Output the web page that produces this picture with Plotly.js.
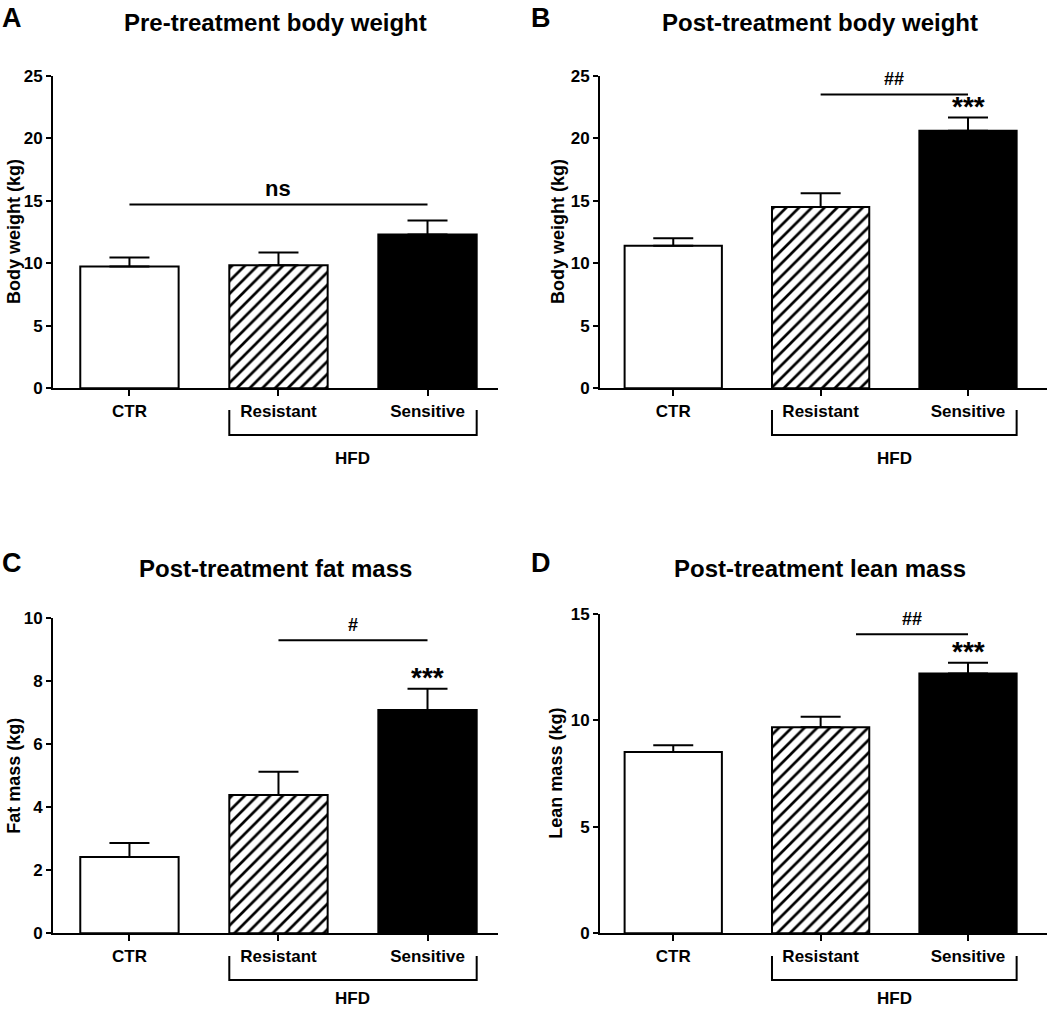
<!DOCTYPE html>
<html>
<head>
<meta charset="utf-8">
<script src="https://cdn.plot.ly/plotly-3.0.1.min.js"></script>
<style>html,body{margin:0;padding:0;background:#fff;}#chart{width:1050px;height:1009px;}</style>
</head>
<body>
<div id="chart"></div>
<script>
// ---- data ----
const groups = ["CTR", "Resistant", "Sensitive"];
const preWeightMean = [9.75, 9.85, 12.3];
const preWeightSem = [0.71, 1.01, 1.12];
const postWeightMean = [11.4, 14.5, 20.6];
const postWeightSem = [0.6, 1.1, 1.05];
const fatMassMean = [2.42, 4.39, 7.09];
const fatMassSem = [0.45, 0.74, 0.67];
const leanMassMean = [8.52, 9.68, 12.21];
const leanMassSem = [0.31, 0.49, 0.5];
const panelTitles = ["Pre-treatment body weight", "Post-treatment body weight", "Post-treatment fat mass", "Post-treatment lean mass"];
const panelLetters = ["A", "B", "C", "D"];
const yTitles = ["Body weight (kg)", "Body weight (kg)", "Fat mass (kg)", "Lean mass (kg)"];
const groupLabel = "HFD";
// significance bars: [label, from category index, to category index, level]
const sigA = [["ns", 0, 2, 14.7]];
const sigB = [["##", 1, 2, 23.5]];
const sigC = [["#", 1, 2, 9.3]];
const sigD = [["##", 1.24, 2, 14.05]];
const starLabel = "***";

// ---- layout helpers ----
const W = 1050, H = 1009;
const px = x => x / W;
const py = y => 1 - y / H;
const FONT = "Liberation Sans, Arial, sans-serif";
const BW = 0.66;
const barStyles = [
  {color: "#ffffff"},
  {color: "#ffffff", pattern: {shape: "/", fgcolor: "#000000", bgcolor: "#ffffff", fgopacity: 1, size: 9, solidity: 0.3, fillmode: "overlay"}},
  {color: "#000000"}
];

const panels = [
  {mean: preWeightMean, sem: preWeightSem, sig: sigA, stars: false, yr: [0, 25], dt: 5,
   xd: [53, 498], yd: [75.7, 388.3], xr: [-0.513, 2.473], title: [275, 22], letter: [12, 18], brk: [410, 435], hfd: 458, yt: 14},
  {mean: postWeightMean, sem: postWeightSem, sig: sigB, stars: true, yr: [0, 25], dt: 5,
   xd: [600, 1047], yd: [75.7, 388.3], xr: [-0.497, 2.536], title: [820, 22], letter: [541, 18], brk: [410, 435], hfd: 458, yt: 558},
  {mean: fatMassMean, sem: fatMassSem, sig: sigC, stars: true, yr: [0, 10], dt: 2,
   xd: [53, 498], yd: [618.3, 933.3], xr: [-0.513, 2.473], title: [275, 568], letter: [12, 563], brk: [956, 980], hfd: 998, yt: 14},
  {mean: leanMassMean, sem: leanMassSem, sig: sigD, stars: true, yr: [0, 15], dt: 5,
   xd: [600, 1047], yd: [614, 933.3], xr: [-0.497, 2.536], title: [820, 568], letter: [541, 563], brk: [956, 980], hfd: 998, yt: 556}
];

const traces = [];
const layout = {
  width: W, height: H, margin: {l: 0, r: 0, t: 0, b: 0},
  paper_bgcolor: "#fff", plot_bgcolor: "rgba(0,0,0,0)",
  showlegend: false, barmode: "overlay",
  font: {family: FONT, color: "#000", weight: "bold"},
  annotations: [], shapes: []
};

panels.forEach((p, i) => {
  const n = i === 0 ? "" : String(i + 1);
  const xa = "x" + n, ya = "y" + n;
  groups.forEach((g, k) => {
    const m = Object.assign({line: {color: "#000", width: 2}}, barStyles[k]);
    traces.push({
      type: "bar", x: [k], y: [p.mean[k]], xaxis: xa, yaxis: ya, width: BW, name: g,
      marker: m,
      error_y: {type: "data", symmetric: false, array: [p.sem[k]], arrayminus: [0], color: "#000", thickness: 2, width: 20},
      hoverinfo: "none"
    });
  });
  layout["xaxis" + n] = {
    domain: [px(p.xd[0]), px(p.xd[1])], range: p.xr, anchor: ya,
    tickmode: "array", tickvals: [0, 1, 2], ticktext: groups,
    showline: true, linewidth: 2, linecolor: "#000", ticks: "outside", ticklen: 6, tickwidth: 2, tickcolor: "#000",
    showgrid: false, zeroline: false, fixedrange: true,
    tickfont: {family: FONT, size: 17, color: "#000", weight: "bold"}
  };
  layout["yaxis" + n] = {
    domain: [py(p.yd[1]), py(p.yd[0])], range: p.yr, anchor: xa, dtick: p.dt, tick0: 0,
    showline: true, linewidth: 2, linecolor: "#000", ticks: "outside", ticklen: 5, tickwidth: 2, tickcolor: "#000",
    showgrid: false, zeroline: false, fixedrange: true,
    tickfont: {family: FONT, size: 17, color: "#000", weight: "bold"}
  };
  // y axis title
  layout.annotations.push({xref: "paper", yref: "paper", x: px(p.yt), y: py((p.yd[0] + p.yd[1]) / 2), text: yTitles[i],
    textangle: -90, showarrow: false, xanchor: "center", yanchor: "middle",
    font: {family: FONT, size: 18, color: "#000", weight: "bold"}});
  // panel title & letter
  layout.annotations.push({xref: "paper", yref: "paper", x: px(p.title[0]), y: py(p.title[1]), text: panelTitles[i],
    showarrow: false, xanchor: "center", yanchor: "middle", font: {family: FONT, size: 24, color: "#000", weight: "bold"}});
  layout.annotations.push({xref: "paper", yref: "paper", x: px(p.letter[0]), y: py(p.letter[1]), text: panelLetters[i],
    showarrow: false, xanchor: "center", yanchor: "middle", font: {family: FONT, size: 27, color: "#000", weight: "bold"}});
  // HFD bracket
  const bx0 = 1 - BW / 2, bx1 = 2 + BW / 2;
  layout.shapes.push({type: "path", xref: xa, yref: "paper",
    path: `M${bx0},${py(p.brk[0])} L${bx0},${py(p.brk[1])} L${bx1},${py(p.brk[1])} L${bx1},${py(p.brk[0])}`,
    line: {color: "#000", width: 2}});
  layout.annotations.push({xref: xa, yref: "paper", x: 1.5, y: py(p.hfd), text: groupLabel, showarrow: false,
    xanchor: "center", yanchor: "middle", font: {family: FONT, size: 17, color: "#000", weight: "bold"}});
  // significance bars
  p.sig.forEach(s => {
    layout.shapes.push({type: "line", xref: xa, yref: ya, x0: s[1], x1: s[2], y0: s[3], y1: s[3], line: {color: "#000", width: 2}});
    const big = s[0] === "ns";
    layout.annotations.push({xref: xa, yref: ya, x: (s[1] + s[2]) / 2, y: s[3], text: s[0], showarrow: false,
      xanchor: "center", yanchor: "bottom", yshift: big ? 1 : 3,
      font: {family: FONT, size: big ? 22 : 18, color: "#000", weight: "bold"}});
  });
  if (p.stars) {
    layout.annotations.push({xref: xa, yref: ya, x: 2, y: p.mean[2] + p.sem[2], text: starLabel, showarrow: false,
      xanchor: "center", yanchor: "bottom", yshift: -6, font: {family: FONT, size: 28, color: "#000", weight: "bold"}});
  }
});

Plotly.newPlot("chart", traces, layout, {staticPlot: true, displayModeBar: false});
</script>
</body>
</html>
